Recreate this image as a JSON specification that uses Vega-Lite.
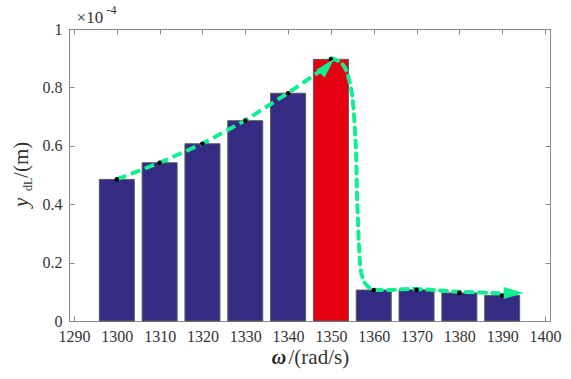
{
  "$schema": "https://vega.github.io/schema/vega-lite/v6.json",
  "width": 481,
  "height": 292,
  "autosize": {"type": "none"},
  "padding": {"left": 69, "top": 29, "right": 21, "bottom": 58},
  "background": "white",
  "config": {
    "font": "Liberation Serif",
    "view": {"stroke": "#8a8a8a", "strokeWidth": 1},
    "axis": {
      "grid": false,
      "domainColor": "#8a8a8a",
      "tickColor": "#8a8a8a",
      "tickSize": -5,
      "labelColor": "#333333",
      "labelFont": "Liberation Serif",
      "labelFontSize": 16,
      "labelFlush": false,
      "labelOverlap": false
    },
    "text": {"font": "Liberation Serif"}
  },
  "datasets": {
    "amplitude": [
      {"omega": 1300, "ydL": 0.485, "kind": "off-peak"},
      {"omega": 1310, "ydL": 0.542, "kind": "off-peak"},
      {"omega": 1320, "ydL": 0.607, "kind": "off-peak"},
      {"omega": 1330, "ydL": 0.686, "kind": "off-peak"},
      {"omega": 1340, "ydL": 0.780, "kind": "off-peak"},
      {"omega": 1350, "ydL": 0.896, "kind": "peak"},
      {"omega": 1360, "ydL": 0.106, "kind": "off-peak"},
      {"omega": 1370, "ydL": 0.107, "kind": "off-peak"},
      {"omega": 1380, "ydL": 0.096, "kind": "off-peak"},
      {"omega": 1390, "ydL": 0.087, "kind": "off-peak"}
    ],
    "rise": [
      {"omega": 1300, "ydL": 0.485},
      {"omega": 1310, "ydL": 0.542},
      {"omega": 1320, "ydL": 0.607},
      {"omega": 1330, "ydL": 0.687},
      {"omega": 1340, "ydL": 0.781},
      {"omega": 1349.2, "ydL": 0.873}
    ],
    "drop": [
      {"omega": 1350.1, "ydL": 0.900},
      {"omega": 1352.0, "ydL": 0.888},
      {"omega": 1353.5, "ydL": 0.860},
      {"omega": 1354.95, "ydL": 0.774},
      {"omega": 1355.8, "ydL": 0.603},
      {"omega": 1356.1, "ydL": 0.432},
      {"omega": 1356.55, "ydL": 0.260},
      {"omega": 1357.2, "ydL": 0.158},
      {"omega": 1359.2, "ydL": 0.112},
      {"omega": 1363.4, "ydL": 0.106},
      {"omega": 1369.5, "ydL": 0.110},
      {"omega": 1380.1, "ydL": 0.100},
      {"omega": 1390.1, "ydL": 0.095},
      {"omega": 1392.7, "ydL": 0.096}
    ],
    "anchor": [{}]
  },
  "resolve": {"axis": {"x": "independent", "y": "independent"}},
  "layer": [
    {
      "data": {"name": "amplitude"},
      "mark": {"type": "bar", "width": 35, "stroke": "#5a5a5a", "strokeWidth": 1},
      "encoding": {
        "x": {
          "field": "omega",
          "type": "quantitative",
          "scale": {"domain": [1290, 1400], "nice": false, "zero": false},
          "axis": {"orient": "bottom", "values": [1290, 1300, 1310, 1320, 1330, 1340, 1350, 1360, 1370, 1380, 1390, 1400], "format": "d", "title": null, "labelPadding": 12}
        },
        "y": {
          "field": "ydL",
          "type": "quantitative",
          "scale": {"domain": [0, 1], "nice": false},
          "axis": {"orient": "left", "values": [0, 0.2, 0.4, 0.6, 0.8, 1], "format": ".1~f", "title": null, "labelPadding": 12}
        },
        "color": {
          "field": "kind",
          "type": "nominal",
          "scale": {"domain": ["off-peak", "peak"], "range": ["#332C82", "#E50012"]},
          "legend": null
        }
      }
    },
    {
      "data": {"name": "amplitude"},
      "mark": {"type": "point", "opacity": 0},
      "encoding": {
        "x": {
          "field": "omega",
          "type": "quantitative",
          "axis": {"orient": "top", "values": [1290, 1300, 1310, 1320, 1330, 1340, 1350, 1360, 1370, 1380, 1390, 1400], "labels": false, "title": null}
        },
        "y": {
          "field": "ydL",
          "type": "quantitative",
          "axis": {"orient": "right", "values": [0, 0.2, 0.4, 0.6, 0.8, 1], "labels": false, "title": null}
        }
      }
    },
    {
      "data": {"name": "rise"},
      "mark": {"type": "line", "color": "#12EE92", "strokeWidth": 4, "strokeDash": [10, 5], "interpolate": "linear"},
      "encoding": {
        "x": {"field": "omega", "type": "quantitative", "axis": null},
        "y": {"field": "ydL", "type": "quantitative", "axis": null}
      }
    },
    {
      "data": {"name": "drop"},
      "mark": {"type": "line", "color": "#12EE92", "strokeWidth": 4, "strokeDash": [7, 6], "strokeCap": "round", "interpolate": "cardinal"},
      "encoding": {
        "x": {"field": "omega", "type": "quantitative", "axis": null},
        "y": {"field": "ydL", "type": "quantitative", "axis": null}
      }
    },
    {
      "data": {"name": "amplitude"},
      "mark": {"type": "point", "filled": true, "color": "#000000", "size": 22, "opacity": 1},
      "encoding": {
        "x": {"field": "omega", "type": "quantitative", "axis": null},
        "y": {"field": "ydL", "type": "quantitative", "axis": null}
      }
    },
    {
      "data": {"name": "anchor"},
      "mark": {"type": "point", "shape": "M0,-1L0.55,1L-0.55,1Z", "filled": true, "color": "#12EE92", "opacity": 1, "size": 420, "angle": 43},
      "encoding": {
        "x": {"datum": 1349.2, "type": "quantitative", "axis": null},
        "y": {"datum": 0.873, "type": "quantitative", "axis": null}
      }
    },
    {
      "data": {"name": "anchor"},
      "mark": {"type": "point", "shape": "M0,-1L0.6,1L-0.6,1Z", "filled": true, "color": "#12EE92", "opacity": 1, "size": 400, "angle": 90},
      "encoding": {
        "x": {"datum": 1392.7, "type": "quantitative", "axis": null},
        "y": {"datum": 0.096, "type": "quantitative", "axis": null}
      }
    },
    {
      "data": {"name": "anchor"},
      "mark": {"type": "text", "text": "×10", "font": "Liberation Serif", "fontSize": 17, "color": "#333333", "align": "left", "baseline": "alphabetic"},
      "encoding": {
        "x": {"datum": 1290.6, "type": "quantitative", "axis": null},
        "y": {"datum": 1.0195, "type": "quantitative", "axis": null}
      }
    },
    {
      "data": {"name": "anchor"},
      "mark": {"type": "text", "text": "-4", "font": "Liberation Serif", "fontSize": 12, "color": "#333333", "align": "left", "baseline": "alphabetic"},
      "encoding": {
        "x": {"datum": 1297.6, "type": "quantitative", "axis": null},
        "y": {"datum": 1.05, "type": "quantitative", "axis": null}
      }
    },
    {
      "data": {"name": "anchor"},
      "mark": {"type": "text", "text": "ω", "font": "Liberation Serif", "fontSize": 20, "fontStyle": "italic", "fontWeight": "bold", "color": "#222222", "align": "left", "baseline": "alphabetic"},
      "encoding": {
        "x": {"datum": 1336.2, "type": "quantitative", "axis": null},
        "y": {"datum": -0.147, "type": "quantitative", "axis": null}
      }
    },
    {
      "data": {"name": "anchor"},
      "mark": {"type": "text", "text": "/(rad/s)", "font": "Liberation Serif", "fontSize": 21, "color": "#333333", "align": "left", "baseline": "alphabetic"},
      "encoding": {
        "x": {"datum": 1340.1, "type": "quantitative", "axis": null},
        "y": {"datum": -0.147, "type": "quantitative", "axis": null}
      }
    },
    {
      "data": {"name": "anchor"},
      "mark": {"type": "text", "text": "y", "font": "Liberation Serif", "fontSize": 21, "fontStyle": "italic", "color": "#333333", "align": "left", "baseline": "alphabetic", "angle": 270},
      "encoding": {
        "x": {"datum": 1279.25, "type": "quantitative", "axis": null},
        "y": {"datum": 0.39, "type": "quantitative", "axis": null}
      }
    },
    {
      "data": {"name": "anchor"},
      "mark": {"type": "text", "text": "dL", "font": "Liberation Serif", "fontSize": 12, "color": "#333333", "align": "left", "baseline": "alphabetic", "angle": 270},
      "encoding": {
        "x": {"datum": 1280.3, "type": "quantitative", "axis": null},
        "y": {"datum": 0.445, "type": "quantitative", "axis": null}
      }
    },
    {
      "data": {"name": "anchor"},
      "mark": {"type": "text", "text": "/(m)", "font": "Liberation Serif", "fontSize": 21, "color": "#333333", "align": "left", "baseline": "alphabetic", "angle": 270},
      "encoding": {
        "x": {"datum": 1279.25, "type": "quantitative", "axis": null},
        "y": {"datum": 0.49, "type": "quantitative", "axis": null}
      }
    }
  ]
}
